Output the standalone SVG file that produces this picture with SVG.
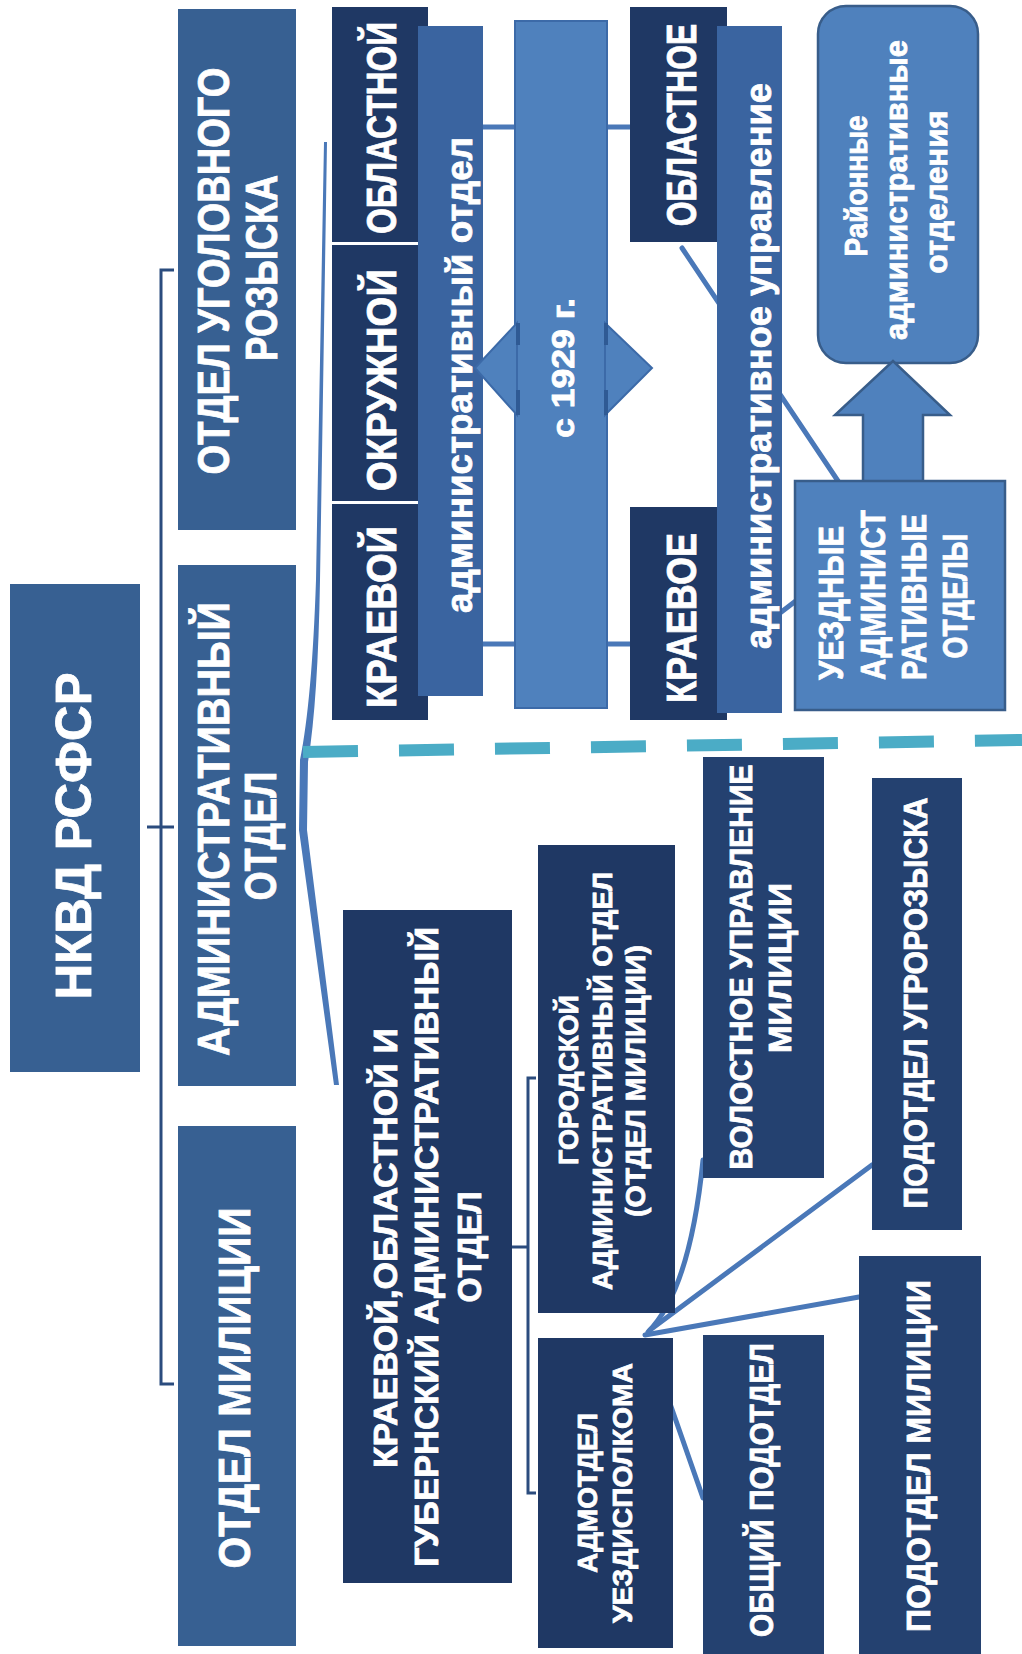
<svg xmlns="http://www.w3.org/2000/svg" width="1022" height="1654" viewBox="0 0 1022 1654">
<style>
.mid{fill:#376092}
.dark{fill:#1f3864}
.dark2{fill:#244170}
.ovl{fill:#3a64a0}
.light{fill:#4f81bd;stroke:#385d8a;stroke-width:2.5}
.t{fill:#fff;stroke:#fff;stroke-width:0.8;font-family:"Liberation Sans",Arial,sans-serif;font-weight:bold;text-anchor:middle}
.br{fill:none;stroke:#2b4c7e;stroke-width:3}
.cn{fill:none;stroke:#4a78b8;stroke-width:5;stroke-linecap:round}
</style>
<rect width="1022" height="1654" fill="#fff"/>
<g id="connectors">
  <path class="br" d="M174,270 H161 V1384 H174 M147,827 H174"/>
  <path d="M324,142 L316,580 Q312,700 300,760 L299,830 L334,1085 L339,1085 L307,830 L308,762 Q318,700 320,580 L327,142 Z" fill="#4a78b8"/>
  <path class="cn" d="M483,127 H630 M483,644 H630" stroke-width="4"/>
  <path class="cn" d="M682,248 L838,481"/>
  <path class="cn" d="M780,613 L797,600" stroke-width="4"/>
  <path class="br" d="M512,1247 H528 M536,1078 H528 V1493 H536"/>
  <path class="cn" d="M648,1332 Q690,1290 703,1160"/>
  <path class="cn" d="M650,1330 L872,1165"/>
  <path class="cn" d="M645,1335 L859,1297"/>
  <path class="cn" d="M660,1375 L703,1498"/>
  <line x1="303" y1="752" x2="1022" y2="740" stroke="#4bacc6" stroke-width="12" stroke-dasharray="55 41"/>
</g>
<g id="n-otdel-ugol">
  <rect class="mid" x="178" y="9" width="118" height="521"/>
  <text class="t" font-size="44" transform="translate(229,271) rotate(-90)" textLength="407" lengthAdjust="spacingAndGlyphs">ОТДЕЛ УГОЛОВНОГО</text>
  <text class="t" font-size="44" transform="translate(277,268) rotate(-90)" textLength="186" lengthAdjust="spacingAndGlyphs">РОЗЫСКА</text>
</g>
<g id="n-nkvd">
  <rect class="mid" x="10" y="584" width="130" height="488"/>
  <text class="t" font-size="50" transform="translate(91,836) rotate(-90)" textLength="327" lengthAdjust="spacingAndGlyphs">НКВД РСФСР</text>
</g>
<g id="n-adm">
  <rect class="mid" x="178" y="565" width="118" height="521"/>
  <text class="t" font-size="44" transform="translate(229,829) rotate(-90)" textLength="454" lengthAdjust="spacingAndGlyphs">АДМИНИСТРАТИВНЫЙ</text>
  <text class="t" font-size="44" transform="translate(276,836) rotate(-90)" textLength="129" lengthAdjust="spacingAndGlyphs">ОТДЕЛ</text>
</g>
<g id="n-milic">
  <rect class="mid" x="178" y="1126" width="118" height="520"/>
  <text class="t" font-size="44" transform="translate(250,1388) rotate(-90)" textLength="361" lengthAdjust="spacingAndGlyphs">ОТДЕЛ МИЛИЦИИ</text>
</g>
<g id="n-oblastnoy">
  <rect class="dark" x="332" y="7" width="96" height="235"/>
  <text class="t" font-size="42" transform="translate(396,128) rotate(-90) scale(0.79,1)">ОБЛАСТНОЙ</text>
</g>
<g id="n-okruzhnoy">
  <rect class="dark" x="332" y="245" width="96" height="256"/>
  <text class="t" font-size="42" transform="translate(396,380) rotate(-90)" textLength="222" lengthAdjust="spacingAndGlyphs">ОКРУЖНОЙ</text>
</g>
<g id="n-kraevoy">
  <rect class="dark" x="332" y="504" width="96" height="216"/>
  <text class="t" font-size="42" transform="translate(396,617) rotate(-90)" textLength="182" lengthAdjust="spacingAndGlyphs">КРАЕВОЙ</text>
</g>
<g id="n-admotdel-top">
  <rect class="ovl" x="418" y="26" width="65" height="670"/>
  <text class="t" font-size="37" transform="translate(472,375) rotate(-90)" textLength="476" lengthAdjust="spacingAndGlyphs">административный отдел</text>
</g>
<g id="n-1929">
  <rect x="515" y="21" width="92" height="687" fill="#4f81bd" stroke="#3c6aa8" stroke-width="2"/>
  <path d="M517,323 L475,368 L517,415 Z M605,323 L652,368 L605,415 Z" fill="#4f81bd" stroke="#3c6aa8" stroke-width="2" stroke-linejoin="miter"/>
  <path d="M518,323 V345 M518,390 V415 M606,323 V345 M606,390 V415" stroke="#2f5a94" stroke-width="4"/>
  <text class="t" font-size="31" transform="translate(574,368) rotate(-90)" textLength="140" lengthAdjust="spacingAndGlyphs">с 1929 г.</text>
</g>
<g id="n-oblastnoe">
  <rect class="dark" x="630" y="7" width="97" height="235"/>
  <text class="t" font-size="42" transform="translate(696,125) rotate(-90) scale(0.76,1)">ОБЛАСТНОЕ</text>
</g>
<g id="n-kraevoe">
  <rect class="dark" x="630" y="507" width="97" height="213"/>
  <text class="t" font-size="42" transform="translate(696,618) rotate(-90)" textLength="170" lengthAdjust="spacingAndGlyphs">КРАЕВОЕ</text>
</g>
<g id="n-admupr">
  <rect class="ovl" x="717" y="26" width="65" height="687"/>
  <text class="t" font-size="37" transform="translate(771,366) rotate(-90)" textLength="566" lengthAdjust="spacingAndGlyphs">административное управление</text>
</g>
<g id="n-rayon">
  <rect class="light" x="818" y="6" width="160" height="357" rx="28"/>
  <text class="t" font-size="31" transform="translate(867,186) rotate(-90)" textLength="141" lengthAdjust="spacingAndGlyphs">Районные</text>
  <text class="t" font-size="31" transform="translate(907,190) rotate(-90)" textLength="300" lengthAdjust="spacingAndGlyphs">административные</text>
  <text class="t" font-size="31" transform="translate(947,192) rotate(-90)" textLength="163" lengthAdjust="spacingAndGlyphs">отделения</text>
</g>
<g id="arrow-up">
  <path class="light" d="M863,484 V415 H835 L893,361 L950,415 H923 V484 Z"/>
</g>
<g id="n-uezd">
  <rect class="light" x="795" y="481" width="210" height="229"/>
  <text class="t" font-size="35" transform="translate(843,603) rotate(-90)" textLength="154" lengthAdjust="spacingAndGlyphs">УЕЗДНЫЕ</text>
  <text class="t" font-size="35" transform="translate(885,595) rotate(-90)" textLength="170" lengthAdjust="spacingAndGlyphs">АДМИНИСТ</text>
  <text class="t" font-size="35" transform="translate(926,597) rotate(-90)" textLength="166" lengthAdjust="spacingAndGlyphs">РАТИВНЫЕ</text>
  <text class="t" font-size="35" transform="translate(967,596) rotate(-90)" textLength="125" lengthAdjust="spacingAndGlyphs">ОТДЕЛЫ</text>
</g>
<g id="n-kraevoy-gub">
  <rect class="dark" x="343" y="910" width="169" height="673"/>
  <text class="t" font-size="34" transform="translate(397,1248) rotate(-90)" textLength="440" lengthAdjust="spacingAndGlyphs">КРАЕВОЙ,ОБЛАСТНОЙ И</text>
  <text class="t" font-size="34" transform="translate(438,1247) rotate(-90)" textLength="640" lengthAdjust="spacingAndGlyphs">ГУБЕРНСКИЙ АДМИНИСТРАТИВНЫЙ</text>
  <text class="t" font-size="34" transform="translate(481,1247) rotate(-90)" textLength="111" lengthAdjust="spacingAndGlyphs">ОТДЕЛ</text>
</g>
<g id="n-gorod">
  <rect class="dark" x="538" y="845" width="137" height="468"/>
  <text class="t" font-size="27" transform="translate(578,1080) rotate(-90)" textLength="170" lengthAdjust="spacingAndGlyphs">ГОРОДСКОЙ</text>
  <text class="t" font-size="27" transform="translate(612,1081) rotate(-90)" textLength="418" lengthAdjust="spacingAndGlyphs">АДМИНИСТРАТИВНЫЙ ОТДЕЛ</text>
  <text class="t" font-size="27" transform="translate(645,1081) rotate(-90)" textLength="272" lengthAdjust="spacingAndGlyphs">(ОТДЕЛ МИЛИЦИИ)</text>
</g>
<g id="n-admotdel-uezd">
  <rect class="dark" x="538" y="1338" width="135" height="310"/>
  <text class="t" font-size="28" transform="translate(597,1493) rotate(-90)" textLength="160" lengthAdjust="spacingAndGlyphs">АДМОТДЕЛ</text>
  <text class="t" font-size="28" transform="translate(632,1493) rotate(-90)" textLength="260" lengthAdjust="spacingAndGlyphs">УЕЗДИСПОЛКОМА</text>
</g>
<g id="n-volost">
  <rect class="dark2" x="703" y="757" width="121" height="421"/>
  <text class="t" font-size="31" transform="translate(752,967) rotate(-90)" textLength="405" lengthAdjust="spacingAndGlyphs">ВОЛОСТНОЕ УПРАВЛЕНИЕ</text>
  <text class="t" font-size="31" transform="translate(791,968) rotate(-90)" textLength="170" lengthAdjust="spacingAndGlyphs">МИЛИЦИИ</text>
</g>
<g id="n-ugro">
  <rect class="dark2" x="872" y="778" width="90" height="452"/>
  <text class="t" font-size="33" transform="translate(927,1003) rotate(-90)" textLength="411" lengthAdjust="spacingAndGlyphs">ПОДОТДЕЛ УГРОРОЗЫСКА</text>
</g>
<g id="n-obshiy">
  <rect class="dark2" x="703" y="1335" width="121" height="319"/>
  <text class="t" font-size="33" transform="translate(773,1490) rotate(-90)" textLength="294" lengthAdjust="spacingAndGlyphs">ОБЩИЙ ПОДОТДЕЛ</text>
</g>
<g id="n-podmilic">
  <rect class="dark2" x="859" y="1256" width="122" height="398"/>
  <text class="t" font-size="33" transform="translate(930,1456) rotate(-90)" textLength="352" lengthAdjust="spacingAndGlyphs">ПОДОТДЕЛ МИЛИЦИИ</text>
</g>
</svg>
